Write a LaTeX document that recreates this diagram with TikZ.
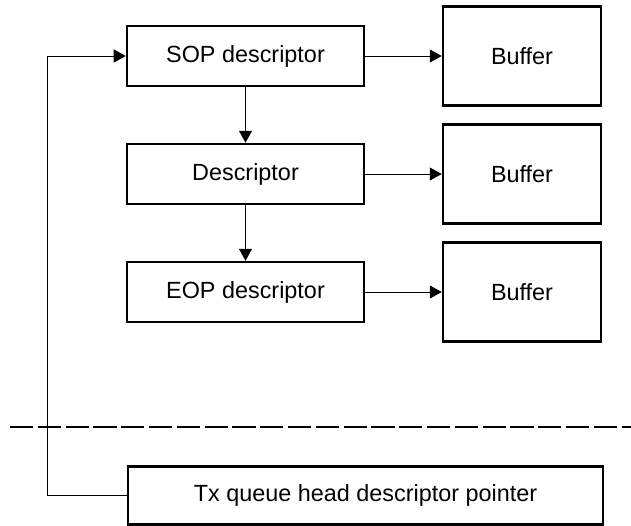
\documentclass[tikz,border=0pt]{standalone}
\usepackage{fontspec}
\setmainfont{Liberation Sans}
\usepackage{tikz}
\usetikzlibrary{positioning}
\usetikzlibrary{arrows.meta}

\begin{document}
\begin{tikzpicture}[node distance=59pt,on grid,
    desc/.style={draw,line width=1.25pt,minimum width=118.5pt,minimum height=30pt,inner sep=0pt,font=\fontsize{11.7}{14}\selectfont},
    buf/.style={desc,minimum width=79pt,minimum height=49.5pt},
    link/.style={-{Triangle[length=6pt,width=6.5pt]},line width=0.5pt}]
   \useasboundingbox (-122.75pt,28pt) rectangle (192.75pt,-234.5pt);
   \node[desc] (d_0) {SOP descriptor};
   \node[desc] (d_1) [below=of d_0] {Descriptor};
   \node[desc] (d_2) [below=of d_1] {EOP descriptor};
   \node[buf] (b_0) [right=138.25pt of d_0] {Buffer};
   \node[buf] (b_1) [right=138.25pt of d_1] {Buffer};
   \node[buf] (b_2) [right=138.25pt of d_2] {Buffer};
   \node[desc,minimum width=237.5pt,minimum height=29pt] (head) [below=101.75pt of d_2,xshift=60pt] {Tx queue head descriptor pointer};
    \path[link]
    (d_0) edge (b_0)
          edge (d_1)
    (d_1) edge (b_1)
          edge (d_2)
    (d_2) edge (b_2);
   \draw[link] (head.west) -- ++(-39.5pt,0) |- (d_0.west);
   % separator
   \draw[line width=1pt,dash pattern=on 11.6pt off 2.3pt] (-117.75pt,-185.5pt) -- (192.75pt,-185.5pt);
\end{tikzpicture}
\end{document}
